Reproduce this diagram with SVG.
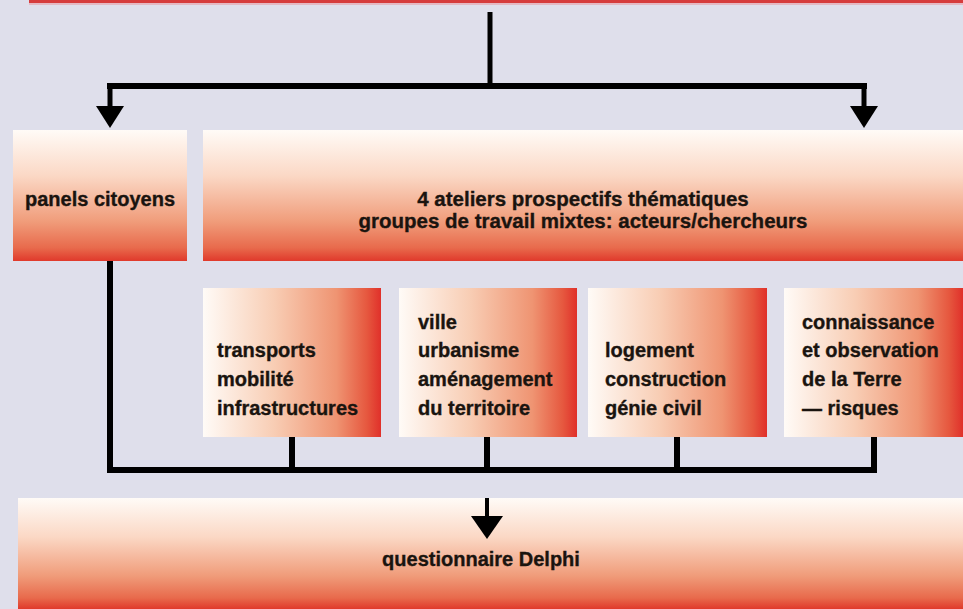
<svg xmlns="http://www.w3.org/2000/svg" width="963" height="609" viewBox="0 0 963 609">
<defs>
<linearGradient id="gv" x1="0" y1="0" x2="0" y2="1">
<stop offset="0" stop-color="#fffbf7"/>
<stop offset="0.35" stop-color="#fbd8c5"/>
<stop offset="0.7" stop-color="#f09c7a"/>
<stop offset="0.9" stop-color="#e86a4c"/>
<stop offset="1" stop-color="#e0392b"/>
</linearGradient>
<linearGradient id="gh" x1="0" y1="0" x2="1" y2="0">
<stop offset="0" stop-color="#fffbf7"/>
<stop offset="0.4" stop-color="#f8cdb4"/>
<stop offset="0.75" stop-color="#ef9472"/>
<stop offset="0.92" stop-color="#e6583f"/>
<stop offset="1" stop-color="#e0302a"/>
</linearGradient>
</defs>
<style>
.t{font-family:"Liberation Sans",Arial,sans-serif;font-weight:bold;font-size:20px;fill:#1a140f;stroke:#1a140f;stroke-width:0.35;}
.big{font-size:20.5px;}
.c{text-anchor:middle;}
.ln{stroke:#000;fill:none;stroke-linecap:butt;stroke-linejoin:miter;}
</style>
<rect width="963" height="609" fill="#dfdfeb"/>
<rect id="top-bar" x="29" y="0" width="934" height="3" fill="#d63c3c"/>
<rect x="29" y="3" width="934" height="2" fill="#e8a0a8" opacity="0.6"/>

<g id="connectors">
<path class="ln" d="M490,12 V86" stroke-width="5"/>
<path class="ln" d="M107,86 H867" stroke-width="6"/>
<path class="ln" d="M110,83 V107" stroke-width="5"/>
<path d="M96,106 L124,106 L110,128 Z" fill="#000"/>
<path class="ln" d="M864,83 V107" stroke-width="5"/>
<path d="M850,106 L878,106 L864,128 Z" fill="#000"/>
<path class="ln" d="M110,261 V470 H874 V437" stroke-width="6"/>
<path class="ln" d="M292,437 V470" stroke-width="6"/>
<path class="ln" d="M487,437 V470" stroke-width="6"/>
<path class="ln" d="M677,437 V470" stroke-width="6"/>
</g>

<g id="panels">
<rect x="13" y="130" width="174" height="131" fill="url(#gv)"/>
<text class="t c" x="100" y="206">panels citoyens</text>
</g>
<g id="ateliers">
<rect x="203" y="130" width="760" height="131" fill="url(#gv)"/>
<text class="t c big" x="583" y="206">4 ateliers prospectifs thématiques</text>
<text class="t c big" x="583" y="228">groupes de travail mixtes: acteurs/chercheurs</text>
</g>
<g id="transports">
<rect x="203" y="288" width="178" height="149" fill="url(#gh)"/>
<text class="t" x="217" y="357">transports</text>
<text class="t" x="217" y="386">mobilité</text>
<text class="t" x="217" y="415">infrastructures</text>
</g>
<g id="ville">
<rect x="399" y="288" width="178" height="149" fill="url(#gh)"/>
<text class="t" x="418" y="329">ville</text>
<text class="t" x="418" y="357">urbanisme</text>
<text class="t" x="418" y="386">aménagement</text>
<text class="t" x="418" y="415">du territoire</text>
</g>
<g id="logement">
<rect x="588" y="288" width="179" height="149" fill="url(#gh)"/>
<text class="t" x="605" y="357">logement</text>
<text class="t" x="605" y="386">construction</text>
<text class="t" x="605" y="415">génie civil</text>
</g>
<g id="terre">
<rect x="784" y="288" width="179" height="149" fill="url(#gh)"/>
<text class="t" x="802" y="329">connaissance</text>
<text class="t" x="802" y="357">et observation</text>
<text class="t" x="802" y="386">de la Terre</text>
<text class="t" x="802" y="415">— risques</text>
</g>
<g id="delphi">
<rect x="18" y="498" width="945" height="111" fill="url(#gv)"/>
<path class="ln" d="M487,498 V517" stroke-width="4"/>
<path d="M471,516 L503,516 L487,539 Z" fill="#000"/>
<text class="t c" x="481" y="566">questionnaire Delphi</text>
</g>
</svg>
